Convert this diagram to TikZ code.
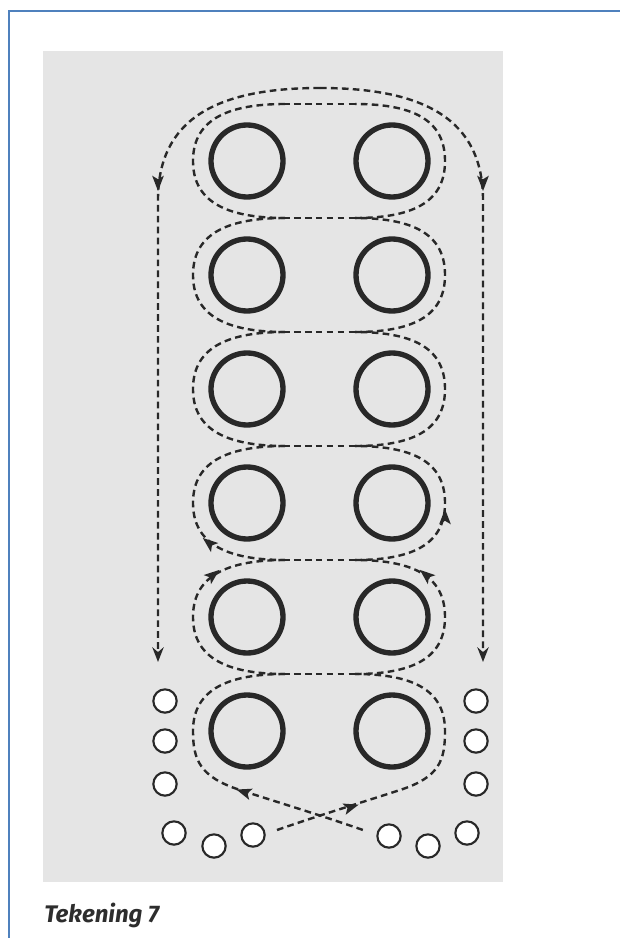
\documentclass[tikz,border=0pt]{standalone}
\usepackage{fontspec}
\newfontfamily\capfont{Fira Sans}
\usetikzlibrary{arrows.meta}
\definecolor{bluebar}{RGB}{79,129,189}
\definecolor{panel}{RGB}{229,229,229}
\definecolor{ink}{RGB}{40,40,40}
\definecolor{capcol}{RGB}{45,45,45}
\newcommand{\headat}[3]{\fill[ink,shift={(#1,#2)},rotate=#3] (6pt,0pt) -- (-5.5pt,4.4pt) -- (-2.8pt,0pt) -- (-5.5pt,-4.4pt) -- cycle;}
\begin{document}
\begin{tikzpicture}[x=0.75pt,y=-0.75pt,
  big/.style={circle,draw=ink,line width=4pt,minimum size=54pt,inner sep=0pt},
  small/.style={circle,draw=ink,fill=white,line width=1.6pt,minimum size=17.5pt,inner sep=0pt},
  route/.style={draw=ink,line width=1.8pt,dash pattern=on 5pt off 3.2pt},
  tipend/.style={-{Stealth[length=11pt,width=8.5pt]}}]
\useasboundingbox (0,0) rectangle (620,938);
\fill[white] (0,0) rectangle (620,938);
\fill[panel] (43,51) rectangle (503,882);
\draw[bluebar,line width=1.5pt] (620,11) -- (9,11) -- (9,938);

% loops around rows 1-5 (left and right halves)
\foreach \y in {161,275,389,503,617}{
  \draw[route] (285,\y-57) .. controls (222,\y-57) and (193,\y-38) .. (193,\y)
    .. controls (193,\y+38) and (222,\y+57) .. (285,\y+57);
  \draw[route] (355,\y+57) .. controls (418,\y+57) and (445,\y+38) .. (445,\y)
    .. controls (445,\y-38) and (418,\y-57) .. (355,\y-57);
}
% shared straight parts between the loops
\foreach \f in {104,218,332,446,560,674}{
  \draw[route] (283,\f) -- (357,\f);
}
% bottom loop with crossing tails
\draw[route] (285,674) .. controls (222,674) and (193,693) .. (193,731)
  .. controls (193,760) and (200,777) .. (240,790)
  .. controls (280,803) and (320,815) .. (363,830);
\draw[route] (277,830) .. controls (320,815) and (360,803) .. (400,790)
  .. controls (440,777) and (445,760) .. (445,731)
  .. controls (445,693) and (418,674) .. (355,674);

% outer return paths
\draw[route,tipend] (320,88) .. controls (215,88) and (158,120) .. (158,200) -- (158,662);
\draw[route,tipend] (320,88) .. controls (425,88) and (483,120) .. (483,200) -- (483,662);
\headat{158}{183}{-90}
\headat{483}{183}{-90}

% arrowheads on the loops
\headat{209}{543}{141}
\headat{213}{575}{39}
\headat{445}{517}{90}
\headat{426}{575}{140}
\headat{244}{792}{162}
\headat{351}{807}{17}

% big circles
\foreach \r/\y in {1/161,2/275,3/389,4/503,5/617,6/731}{
  \node[big] (L\r) at (247,\y) {};
  \node[big] (R\r) at (392,\y) {};
}
% small circles
\node[small] (a1) at (165,701) {};
\node[small] (a2) at (165,741) {};
\node[small] (a3) at (165,784) {};
\node[small] (a4) at (174,833) {};
\node[small] (a5) at (214,846) {};
\node[small] (a6) at (253,835) {};
\node[small] (b1) at (476,701) {};
\node[small] (b2) at (476,741) {};
\node[small] (b3) at (476,784) {};
\node[small] (b4) at (467,833) {};
\node[small] (b5) at (428,846) {};
\node[small] (b6) at (389,836) {};

\node[anchor=base west,inner sep=0pt,text=capcol,font=\capfont\bfseries\itshape\fontsize{18pt}{20pt}\selectfont] (cap) at (44,922) {Tekening 7};
\end{tikzpicture}
\end{document}
